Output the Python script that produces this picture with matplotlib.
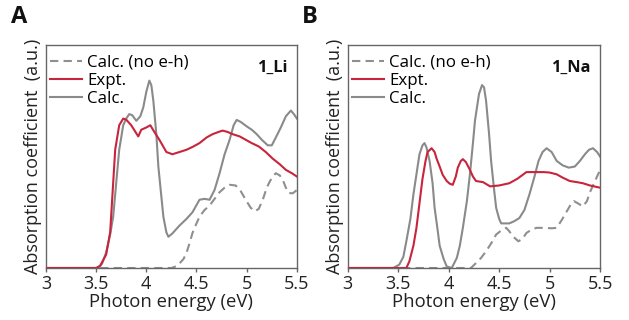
import matplotlib
matplotlib.use("Agg")
import matplotlib.pyplot as plt

plt.rcParams['font.family'] = ['Open Sans', 'DejaVu Sans']

# ---- Panel A: 1_Li ----
li_expt_x = [3.0, 3.5, 3.54, 3.6, 3.64, 3.69, 3.73, 3.77, 3.8, 3.85, 3.92, 3.95, 4.0, 4.04, 4.08, 4.13, 4.2, 4.26, 4.33,
             4.4, 4.47, 4.53, 4.6, 4.66, 4.72, 4.76, 4.81, 4.86, 4.93, 4.99, 5.05, 5.12, 5.19, 5.26, 5.33, 5.39, 5.45, 5.5]
li_expt_y = [0.0, 0.0, 0.01, 0.06, 0.16, 0.53, 0.64, 0.67, 0.665, 0.64, 0.59, 0.62, 0.63, 0.64, 0.61, 0.575, 0.52, 0.51, 0.52,
             0.53, 0.545, 0.56, 0.585, 0.60, 0.61, 0.616, 0.61, 0.60, 0.59, 0.575, 0.56, 0.545, 0.52, 0.49, 0.465, 0.44, 0.425, 0.41]

li_calc_x = [3.0, 3.52, 3.56, 3.6, 3.64, 3.67, 3.7, 3.73, 3.77, 3.8, 3.83, 3.86, 3.9, 3.94, 3.97, 4.0, 4.03, 4.05, 4.07,
             4.1, 4.12, 4.15, 4.17, 4.2, 4.22, 4.26, 4.33, 4.4, 4.46, 4.53, 4.58, 4.63, 4.68, 4.73, 4.78, 4.83, 4.87, 4.9,
             4.94, 5.0, 5.05, 5.1, 5.15, 5.21, 5.25, 5.29, 5.34, 5.39, 5.44, 5.47, 5.5]
li_calc_y = [0.0, 0.0, 0.02, 0.07, 0.15, 0.23, 0.38, 0.53, 0.64, 0.67, 0.69, 0.685, 0.66, 0.68, 0.72, 0.79, 0.84, 0.82, 0.75,
             0.6, 0.455, 0.32, 0.23, 0.16, 0.14, 0.155, 0.19, 0.22, 0.25, 0.306, 0.31, 0.306, 0.35, 0.425, 0.51, 0.575, 0.64, 0.664,
             0.655, 0.635, 0.62, 0.6, 0.575, 0.55, 0.55, 0.585, 0.63, 0.68, 0.706, 0.69, 0.67]

li_noeh_x = [3.0, 4.25, 4.3, 4.33, 4.37, 4.4, 4.43, 4.46, 4.5, 4.53, 4.58, 4.63, 4.68, 4.73, 4.78, 4.83, 4.89, 4.94, 4.99,
             5.04, 5.08, 5.12, 5.16, 5.2, 5.23, 5.26, 5.29, 5.33, 5.36, 5.39, 5.42, 5.46, 5.5]
li_noeh_y = [0.0, 0.0, 0.008, 0.02, 0.04, 0.067, 0.11, 0.157, 0.2, 0.23, 0.26, 0.28, 0.31, 0.34, 0.36, 0.373, 0.37, 0.345, 0.306,
             0.27, 0.254, 0.265, 0.306, 0.36, 0.388, 0.41, 0.425, 0.415, 0.395, 0.36, 0.336, 0.335, 0.35]

# ---- Panel B: 1_Na ----
na_expt_x = [3.0, 3.58, 3.61, 3.65, 3.68, 3.71, 3.74, 3.77, 3.79, 3.83, 3.86, 3.88, 3.91, 3.94, 3.98, 4.01, 4.04, 4.07, 4.09,
             4.12, 4.14, 4.17, 4.21, 4.24, 4.27, 4.34, 4.41, 4.5, 4.6, 4.68, 4.77, 4.85, 4.94, 5.0, 5.07, 5.13, 5.2, 5.27,
             5.33, 5.4, 5.45, 5.5]
na_expt_y = [0.0, 0.0, 0.03, 0.1, 0.18, 0.29, 0.40, 0.48, 0.52, 0.537, 0.52, 0.49, 0.455, 0.418, 0.39, 0.378, 0.373, 0.41, 0.45,
             0.48, 0.488, 0.475, 0.44, 0.41, 0.39, 0.385, 0.366, 0.37, 0.38, 0.40, 0.43, 0.43, 0.43, 0.428, 0.42, 0.405, 0.39, 0.385,
             0.38, 0.37, 0.365, 0.36]

na_calc_x = [3.0, 3.45, 3.51, 3.55, 3.58, 3.62, 3.65, 3.68, 3.71, 3.74, 3.76, 3.78, 3.81, 3.84, 3.86, 3.89, 3.91, 3.95, 3.98,
             4.03, 4.08, 4.11, 4.14, 4.18, 4.21, 4.24, 4.26, 4.3, 4.33, 4.35, 4.37, 4.4, 4.42, 4.45, 4.47, 4.5, 4.52, 4.6, 4.65,
             4.7, 4.75, 4.8, 4.85, 4.89, 4.93, 4.97, 5.02, 5.07, 5.13, 5.19, 5.25, 5.3, 5.35, 5.39, 5.43, 5.47, 5.5]
na_calc_y = [0.0, 0.0, 0.015, 0.05, 0.12, 0.22, 0.33, 0.42, 0.51, 0.55, 0.56, 0.54, 0.48, 0.38, 0.27, 0.17, 0.10, 0.04, 0.007,
             0.0, 0.045, 0.1, 0.18, 0.3, 0.42, 0.56, 0.66, 0.78, 0.82, 0.81, 0.75, 0.6, 0.48, 0.35, 0.27, 0.22, 0.20, 0.20, 0.21,
             0.224, 0.26, 0.33, 0.41, 0.48, 0.52, 0.537, 0.52, 0.48, 0.46, 0.45, 0.455, 0.48, 0.51, 0.53, 0.537, 0.52, 0.50]

na_noeh_x = [3.0, 4.22, 4.27, 4.32, 4.37, 4.42, 4.47, 4.52, 4.57, 4.6, 4.64, 4.69, 4.73, 4.77, 4.82, 4.87, 4.95, 5.02, 5.07,
             5.12, 5.17, 5.21, 5.24, 5.28, 5.33, 5.37, 5.4, 5.45, 5.5]
na_noeh_y = [0.0, 0.0, 0.022, 0.045, 0.075, 0.11, 0.15, 0.168, 0.18, 0.165, 0.14, 0.12, 0.13, 0.157, 0.172, 0.18, 0.18, 0.178, 0.18,
             0.215, 0.254, 0.285, 0.30, 0.29, 0.276, 0.3, 0.34, 0.39, 0.44]

x_ticks = [3, 3.5, 4, 4.5, 5, 5.5]
x_ticklabels = ['3', '3.5', '4', '4.5', '5', '5.5']

RED = '#c8243c'
GRAY = '#8a8a8a'
DASH = '#8f8f8f'
SPINE = '#666666'

fig = plt.figure(figsize=(6.29, 3.20), dpi=100)
axA = fig.add_axes([0.073, 0.1625, 0.399, 0.697])
axB = fig.add_axes([0.553, 0.1625, 0.401, 0.697])

panels = [
    (axA, li_noeh_x, li_noeh_y, li_expt_x, li_expt_y, li_calc_x, li_calc_y, '1_Li', 'A', 0.018),
    (axB, na_noeh_x, na_noeh_y, na_expt_x, na_expt_y, na_calc_x, na_calc_y, '1_Na', 'B', 0.480),
]

for ax, nx, ny, ex, ey, cx, cy, name, letter, lx in panels:
    ax.plot(nx, ny, color=DASH, lw=1.5, ls=(0, (4, 2.5)), label='Calc. (no e-h)')
    ax.plot(cx, cy, color=GRAY, lw=1.5, label='Calc.', zorder=2)
    ax.plot(ex, ey, color=RED, lw=1.5, label='Expt.', zorder=3)
    ax.set_xlim(3, 5.5)
    ax.set_ylim(0, 1)
    ax.set_xticks(x_ticks)
    ax.set_xticklabels(x_ticklabels)
    ax.set_yticks([])
    ax.tick_params(axis='x', direction='out', length=3, width=1, color=SPINE, labelsize=13, pad=2, labelcolor='#222222')
    for s in ax.spines.values():
        s.set_color(SPINE)
        s.set_linewidth(1.0)
    ax.set_xlabel('Photon energy (eV)', fontsize=13.3, labelpad=0, color='#222222')
    ax.set_ylabel('Absorption coefficient  (a.u.)', fontsize=13, labelpad=3, color='#222222')
    handles, labels = ax.get_legend_handles_labels()
    order = [0, 2, 1]
    ax.legend([handles[i] for i in order], [labels[i] for i in order], loc='upper left',
              bbox_to_anchor=(0.0, 0.975), frameon=False, fontsize=12.2, handlelength=1.9, handletextpad=0.3,
              labelspacing=0.12, borderaxespad=0.0, borderpad=0.25)
    ax.text(0.965, 0.935, name, transform=ax.transAxes, ha='right', va='top',
            fontsize=11.8, fontweight='bold', color='#111111')
    fig.text(lx, 0.985, letter, ha='left', va='top', fontsize=17, fontweight='bold', color='#111111')

fig.savefig('out.png', dpi=100)
